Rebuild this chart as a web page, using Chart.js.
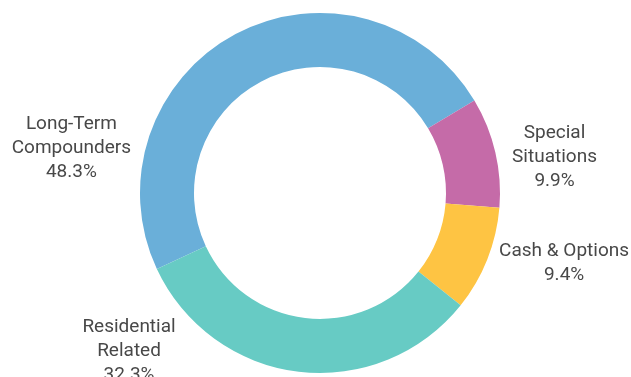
<!DOCTYPE html>
<html>
<head>
<meta charset="utf-8">
<script src="https://cdn.jsdelivr.net/npm/chart.js@4/dist/chart.umd.min.js"></script>
<style>
  html, body { margin: 0; padding: 0; background: #ffffff; }
  #wrap { width: 631px; height: 377px; position: relative; }
</style>
</head>
<body>
<div id="wrap"><canvas id="c" width="631" height="377"></canvas></div>
<script>
// ---- data ----
const categories = ["Long-Term Compounders", "Special Situations", "Cash & Options", "Residential Related"];
const labelLines = [["Long-Term", "Compounders"], ["Special", "Situations"], ["Cash & Options"], ["Residential", "Related"]];
const values = [48.3, 9.9, 9.4, 32.3];
const colors = ["#6aafd9", "#c56ba8", "#fec443", "#67cbc4"];

// label anchor offsets relative to chart center, in units of outer radius
const labelOffsets = [[-1.381, -0.247], [1.303, -0.197], [1.356, 0.389], [-1.061, 0.880]];

const outsideLabels = {
  id: 'outsideLabels',
  afterDraw(chart) {
    const ctx = chart.ctx;
    const meta = chart.getDatasetMeta(0);
    const arc0 = meta.data[0];
    const cx = arc0.x, cy = arc0.y, r = arc0.outerRadius;
    ctx.save();
    ctx.fillStyle = '#484848';
    ctx.font = '19px Roboto';
    ctx.textAlign = 'center';
    ctx.textBaseline = 'middle';
    const lh = 24;
    meta.data.forEach((arc, i) => {
      const lines = labelLines[i].concat([values[i].toFixed(1) + '%']);
      const x = cx + labelOffsets[i][0] * r;
      const yc = cy + labelOffsets[i][1] * r;
      const y0 = yc - (lines.length - 1) * lh / 2;
      lines.forEach((t, k) => ctx.fillText(t, x, y0 + k * lh));
    });
    ctx.restore();
  }
};

new Chart(document.getElementById('c'), {
  type: 'doughnut',
  data: {
    labels: categories,
    datasets: [{
      data: values,
      backgroundColor: colors,
      borderWidth: 0
    }]
  },
  options: {
    responsive: false,
    animation: false,
    rotation: -115,
    cutout: '70%',
    layout: { padding: { top: 13, bottom: 4, left: 9, right: 0 } },
    plugins: {
      legend: { display: false },
      tooltip: { enabled: false }
    }
  },
  plugins: [outsideLabels]
});
</script>
</body>
</html>
